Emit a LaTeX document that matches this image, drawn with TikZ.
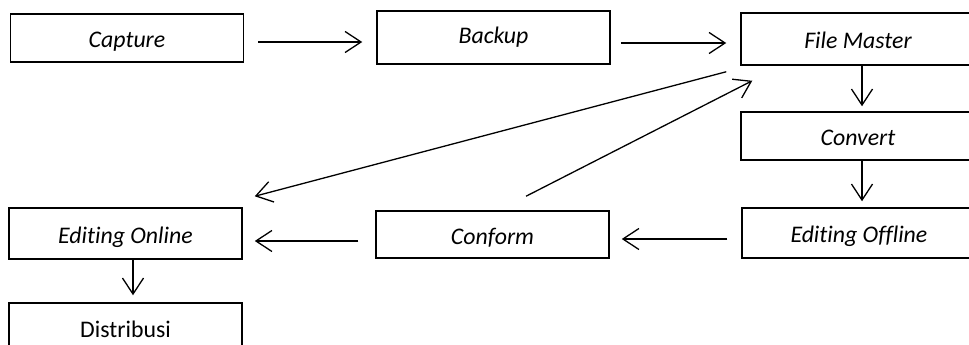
\documentclass[tikz,border=0pt]{standalone}
\usepackage{fontspec}
\setmainfont[Ligatures={NoCommon}]{Carlito}
\usetikzlibrary{arrows.meta,calc}
\tikzset{
  box/.style={draw, line width=1.5pt, minimum width=233pt, inner sep=0pt, text height=20pt, text depth=0.5pt, font=\fontsize{23.8}{27}\selectfont\itshape},
  plainbox/.style={box, font=\fontsize{23.8}{27}\selectfont},
  conn/.style={line width=1.3pt, -{Straight Barb[length=16pt,width=21pt,line width=1.3pt]}}
}
\begin{document}
\begin{tikzpicture}[x=1pt,y=-1pt]
\useasboundingbox (0,0) rectangle (969,345);
\clip (0,0) rectangle (969,345);
\node[box, minimum height=48pt] (capture) at (127,38) {Capture};
\node[box, minimum height=53pt] (backup) at (493.5,37.5) {\raisebox{4pt}{Backup}};
\node[box, minimum height=52pt, minimum width=234pt] (fm) at (858,39) {File Master};
\node[box, minimum height=48pt, minimum width=234pt] (convert) at (858,136) {Convert};
\node[box, minimum height=50pt, minimum width=234pt] (eoff) at (859,233) {Editing Offline};
\node[box, minimum height=47pt] (conform) at (492.5,234.5) {Conform};
\node[box, minimum height=51pt] (eon) at (125.5,233.5) {Editing Online};
\node[plainbox, minimum height=50pt] (dist) at (125.5,328) {Distribusi};

\draw[conn] ($(capture.east)+(14,4)$) -- ($(backup.west)+(-14,4.5)$);
\draw[conn] ($(backup.east)+(10,5.5)$) -- ($(fm.west)+(-14,4)$);
\draw[conn] ($(fm.south)+(4,0)$) -- ($(convert.north)+(4,-5)$);
\draw[conn] ($(convert.south)+(4,0)$) -- ($(eoff.north)+(3,-6)$);
\draw[conn] ($(eoff.west)+(-14,6)$) -- ($(conform.east)+(12,4.5)$);
\draw[conn] ($(conform.west)+(-17,6.5)$) -- ($(eon.east)+(12,7.5)$);
\draw[conn] ($(eon.south)+(7.5,0)$) -- ($(dist.north)+(7.5,-7)$);
\draw[conn] ($(fm.south west)+(-14,6)$) -- ($(eon.north east)+(12,-11)$);
\draw[conn] ($(conform.north)+(33.5,-14)$) -- ($(fm.south west)+(12,15)$);
\end{tikzpicture}
\end{document}
